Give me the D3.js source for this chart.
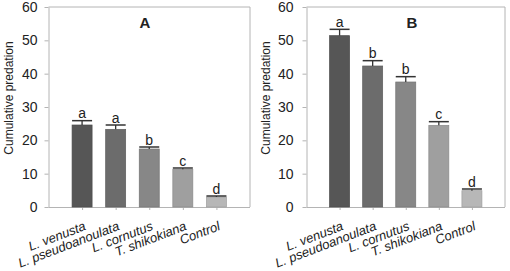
<!DOCTYPE html>
<html><head><meta charset="utf-8">
<script src="https://cdn.jsdelivr.net/npm/d3@7"></script>
<style>body{margin:0;background:#fff}svg{display:block;font-family:"Liberation Sans",Arial,sans-serif}</style>
</head><body><svg id="c" width="510" height="271"></svg>
<script>
const categories = ["L. venusta","L. pseudoanoulata","L. cornutus","T. shikokiana","Control"];
const valuesA = [24.6, 23.3, 17.4, 11.3, 3.0];
const errorsA = [1.3, 1.3, 0.6, 0.4, 0.3];
const lettersA = ["a","a","b","c","d"];
const valuesB = [51.4, 42.3, 37.5, 24.5, 4.9];
const errorsB = [1.9, 1.6, 1.6, 1.1, 0.5];
const lettersB = ["a","b","b","c","d"];
const yTicks = [0,10,20,30,40,50,60];
const barColors = ["#565656","#6c6c6c","#878787","#9f9f9f","#b7b7b7"];

const svg = d3.select("#c");
const panels = [
  {x0:48.5, x1:250, vals:valuesA, errs:errorsA, letters:lettersA, label:"A", lx:145, titleX:13, pad:7},
  {x0:306.5, x1:505, vals:valuesB, errs:errorsB, letters:lettersB, label:"B", lx:412, titleX:270, pad:9},
];
const y = d3.scaleLinear().domain([0,60]).range([207,7]);
const frameColor = "#b4b4b4";

panels.forEach(p => {
  const g = svg.append("g");
  const x = d3.scalePoint().domain(categories).range([p.x0, p.x1]).padding(1);
  const bw = 20;
  g.append("line").attr("x1",p.x0).attr("x2",p.x1).attr("y1",y(60)).attr("y2",y(60)).attr("stroke",frameColor);
  g.append("line").attr("x1",p.x1).attr("x2",p.x1).attr("y1",y(60)).attr("y2",y(0)).attr("stroke",frameColor);
  const ya = g.append("g").attr("transform",`translate(${p.x0},0)`)
    .call(d3.axisLeft(y).tickValues(yTicks).tickSize(4).tickPadding(p.pad).tickSizeOuter(0));
  ya.select(".domain").attr("stroke",frameColor);
  ya.selectAll(".tick line").attr("stroke",frameColor);
  ya.selectAll("text").attr("font-size","14px").attr("fill","#222").attr("font-family","Liberation Sans, Arial, sans-serif");
  const xa = g.append("g").attr("transform",`translate(0,${y(0)})`)
    .call(d3.axisBottom(x).tickSize(3).tickSizeOuter(0));
  xa.select(".domain").attr("stroke",frameColor).attr("d",`M${p.x0},0.5H${p.x1}`);
  xa.selectAll(".tick line").attr("stroke",frameColor);
  xa.selectAll("text").attr("font-size","13px").attr("fill","#222").attr("font-style","italic")
    .attr("font-family","Liberation Sans, Arial, sans-serif")
    .attr("text-anchor","end").attr("y",0).attr("dy",0)
    .attr("transform","translate(4,22.5) rotate(-21)");
  g.selectAll("rect.bar").data(categories).join("rect")
    .attr("x",d=>x(d)-bw/2).attr("width",bw)
    .attr("y",(d,i)=>y(p.vals[i])).attr("height",(d,i)=>y(0)-y(p.vals[i]))
    .attr("fill",(d,i)=>barColors[i]).attr("stroke",(d,i)=>d3.color(barColors[i]).darker(0.4)).attr("stroke-width",0.7);
  g.selectAll("line.err").data(categories).join("line")
    .attr("x1",d=>x(d)).attr("x2",d=>x(d))
    .attr("y1",(d,i)=>y(p.vals[i])).attr("y2",(d,i)=>y(p.vals[i]+p.errs[i]))
    .attr("stroke","#333").attr("stroke-width",1.3);
  g.selectAll("line.cap").data(categories).join("line")
    .attr("x1",d=>x(d)-bw/2).attr("x2",d=>x(d)+bw/2)
    .attr("y1",(d,i)=>y(p.vals[i]+p.errs[i])).attr("y2",(d,i)=>y(p.vals[i]+p.errs[i]))
    .attr("stroke","#333").attr("stroke-width",1.5);
  g.selectAll("text.let").data(categories).join("text")
    .attr("x",d=>x(d)).attr("y",(d,i)=>y(p.vals[i]+p.errs[i])-2.5)
    .attr("text-anchor","middle").attr("font-size","14px").attr("fill","#222")
    .text((d,i)=>p.letters[i]);
  g.append("text").attr("x",p.lx).attr("y",28).attr("text-anchor","middle")
    .attr("font-size","15px").attr("font-weight","bold").attr("fill","#222").text(p.label);
  g.append("text").attr("transform",`translate(${p.titleX},98) rotate(-90)`)
    .attr("text-anchor","middle").attr("font-size","12px").attr("fill","#222").text("Cumulative predation");
});
</script></body></html>
